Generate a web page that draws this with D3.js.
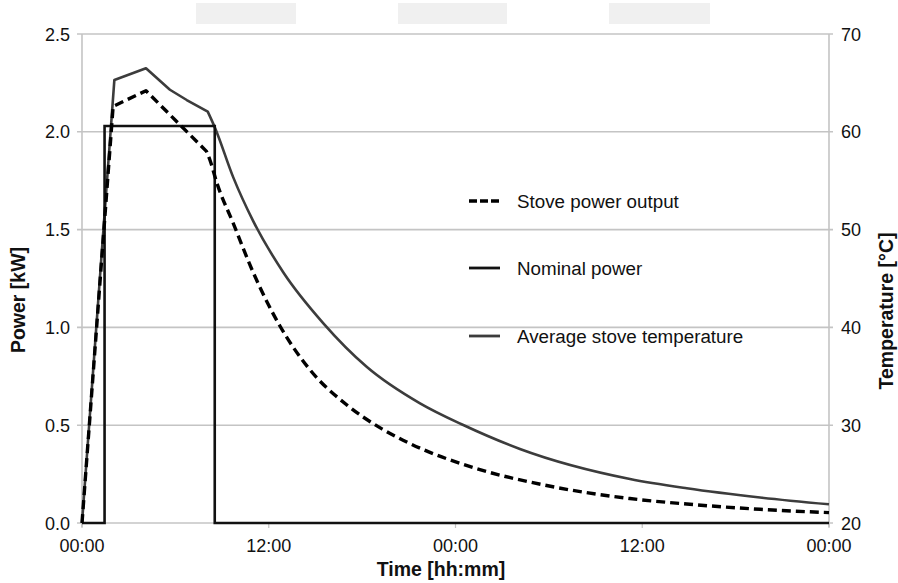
<!DOCTYPE html>
<html>
<head>
<meta charset="utf-8">
<script src="https://cdn.jsdelivr.net/npm/d3@7"></script>
<style>
  body { margin: 0; background: #fff; }
  svg { font-family: "Liberation Sans", Arial, sans-serif; }
  .tick-label { font-size: 18px; fill: #111; }
  .axis-title { font-size: 19.5px; font-weight: bold; fill: #111; }
  .legend-label { font-size: 18.8px; fill: #111; }
</style>
</head>
<body>
<svg width="898" height="583"></svg>
<script>
// hours since start
const outputTime = [0, 2.0, 4.11, 8.0, 8.22, 8.66, 9.72, 11.01, 12.72, 14.65, 17.01, 19.3, 21.08, 25.36, 29.64, 35.21, 38.86, 43.57, 48];
const outputPower = [0, 2.13, 2.21, 1.90, 1.856, 1.74, 1.532, 1.279, 1.007, 0.783, 0.604, 0.48, 0.406, 0.278, 0.195, 0.125, 0.097, 0.07, 0.053];

const tempTime = [0, 2.08, 4.11, 5.65, 6.73, 8.08, 8.55, 9.72, 11.01, 12.94, 15.51, 18.29, 21.72, 24.5, 28.14, 35.21, 38.86, 43.57, 48];
const tempValues = [20, 65.3, 66.5, 64.3, 63.25, 62.06, 60.39, 55.34, 50.84, 45.62, 40.42, 35.98, 32.24, 30.02, 27.57, 24.5, 23.55, 22.61, 21.91];

const nominalTime = [0, 1.45, 8.53, 48];
const nominalPower = [0, 2.03, 0, 0];

const heatingEnd = 8.1; // firing stops here, cooling curves are smooth after it

const timeTicks = [0, 12, 24, 36, 48];
const timeLabels = ['00:00', '12:00', '00:00', '12:00', '00:00'];
const powerTicks = [0, 0.5, 1.0, 1.5, 2.0, 2.5];
const tempTicks = [20, 30, 40, 50, 60, 70];

const legendNames = ['Stove power output', 'Nominal power', 'Average stove temperature'];

const LEFT = 82, RIGHT = 829, TOP = 34, BOTTOM = 523;

const x = d3.scaleLinear().domain([0, 48]).range([LEFT, RIGHT]);
const yPower = d3.scaleLinear().domain([0, 2.5]).range([BOTTOM, TOP]);
const yTemp = d3.scaleLinear().domain([20, 70]).range([BOTTOM, TOP]);

const svg = d3.select('svg');

// grey boxes along the top edge
svg.selectAll('rect.blank')
  .data([[196, 296], [398, 507], [609, 710]])
  .enter()
  .append('rect')
  .attr('x', d => d[0]).attr('y', 3)
  .attr('width', d => d[1] - d[0]).attr('height', 21)
  .attr('fill', '#f0f0f0');

// gridlines
svg.append('g')
  .selectAll('line')
  .data(powerTicks)
  .enter()
  .append('line')
  .attr('x1', LEFT - 5).attr('x2', RIGHT + 4)
  .attr('y1', d => yPower(d)).attr('y2', d => yPower(d))
  .attr('stroke', '#c4c4c4').attr('stroke-width', 1.6);

// vertical axis lines
svg.append('g')
  .selectAll('line')
  .data([LEFT, RIGHT])
  .enter()
  .append('line')
  .attr('x1', d => d).attr('x2', d => d)
  .attr('y1', TOP).attr('y2', BOTTOM + 4)
  .attr('stroke', '#c4c4c4').attr('stroke-width', 1.6);

// bottom ticks
svg.append('g')
  .selectAll('line')
  .data(timeTicks)
  .enter()
  .append('line')
  .attr('x1', d => x(d)).attr('x2', d => x(d))
  .attr('y1', BOTTOM).attr('y2', BOTTOM + 5)
  .attr('stroke', '#c4c4c4').attr('stroke-width', 1.2);

// tick labels
svg.append('g')
  .selectAll('text')
  .data(powerTicks)
  .enter()
  .append('text')
  .classed('tick-label', true)
  .attr('x', 70).attr('y', d => yPower(d) + 6.5)
  .attr('text-anchor', 'end')
  .text(d => d.toFixed(1));

svg.append('g')
  .selectAll('text')
  .data(tempTicks)
  .enter()
  .append('text')
  .classed('tick-label', true)
  .attr('x', 841).attr('y', d => yTemp(d) + 6.5)
  .text(d => d);

svg.append('g')
  .selectAll('text')
  .data(timeTicks)
  .enter()
  .append('text')
  .classed('tick-label', true)
  .attr('x', d => x(d)).attr('y', 552)
  .attr('text-anchor', 'middle')
  .text((d, i) => timeLabels[i]);

// axis titles
svg.append('text')
  .classed('axis-title', true)
  .attr('x', 441).attr('y', 576)
  .attr('text-anchor', 'middle')
  .text('Time [hh:mm]');

svg.append('text')
  .classed('axis-title', true)
  .attr('transform', 'translate(25,300) rotate(-90)')
  .attr('text-anchor', 'middle')
  .text('Power [kW]');

svg.append('text')
  .classed('axis-title', true)
  .attr('transform', 'translate(893,311) rotate(-90)')
  .attr('text-anchor', 'middle')
  .text('Temperature [°C]');

// each series: straight segments while firing, smooth curve while cooling
function drawSeries(times, values, yScale, stroke, width, dash) {
  const pts = times.map((t, i) => [t, values[i]]);
  const heat = pts.filter(p => p[0] <= heatingEnd);
  const cool = pts.filter(p => p[0] >= heat[heat.length - 1][0]);
  const g = svg.append('g')
    .attr('fill', 'none')
    .attr('stroke', stroke)
    .attr('stroke-width', width)
    .attr('stroke-linejoin', 'round');
  if (dash) g.attr('stroke-dasharray', dash);
  const straight = d3.line().x(p => x(p[0])).y(p => yScale(p[1]));
  const smooth = d3.line().x(p => x(p[0])).y(p => yScale(p[1])).curve(d3.curveMonotoneX);
  // one path so the dash pattern runs on without a break
  g.append('path').attr('d', straight(heat) + smooth(cool).replace(/^M[^LC]*/, 'L' + x(cool[0][0]) + ',' + yScale(cool[0][1])));
}

drawSeries(tempTime, tempValues, yTemp, '#3c3c3c', 2.6, null);

const nominalLine = d3.line()
  .x((d, i) => x(nominalTime[i]))
  .y(d => yPower(d))
  .curve(d3.curveStepAfter);

svg.append('path')
  .datum(nominalPower)
  .attr('d', nominalLine)
  .attr('fill', 'none')
  .attr('stroke', '#111')
  .attr('stroke-width', 2.6);

drawSeries(outputTime, outputPower, yPower, '#000', 3.4, '9,5');

// legend
const legendY = [201, 268, 336];
const legendStyle = [
  { stroke: '#000', width: 3.4, dash: '8,3' },
  { stroke: '#111', width: 2.8, dash: null },
  { stroke: '#3c3c3c', width: 2.8, dash: null }
];

const legend = svg.append('g')
  .selectAll('g')
  .data(legendNames)
  .enter()
  .append('g');

legend.append('line')
  .attr('x1', 469).attr('x2', 500)
  .attr('y1', (d, i) => legendY[i]).attr('y2', (d, i) => legendY[i])
  .attr('stroke', (d, i) => legendStyle[i].stroke)
  .attr('stroke-width', (d, i) => legendStyle[i].width)
  .attr('stroke-dasharray', (d, i) => legendStyle[i].dash);

legend.append('text')
  .classed('legend-label', true)
  .attr('x', 517)
  .attr('y', (d, i) => legendY[i] + 6.5)
  .text(d => d);
</script>
</body>
</html>
